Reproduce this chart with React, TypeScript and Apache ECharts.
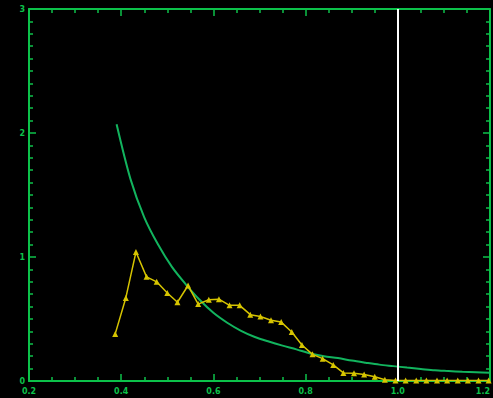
import React, { useEffect, useRef } from "react";
import * as echarts from "echarts";

const xTicks = [0.2, 0.4, 0.6, 0.8, 1.0, 1.2];
const yTicks = [0, 1, 2, 3];

const modelX = [0.39, 0.42, 0.45, 0.48, 0.51, 0.54, 0.57, 0.6, 0.63, 0.66, 0.69, 0.72, 0.75, 0.78, 0.81, 0.84, 0.87, 0.9, 0.93, 0.96, 0.99, 1.02, 1.05, 1.08, 1.11, 1.14, 1.17, 1.2];
const modelY = [2.07, 1.63, 1.32, 1.1, 0.92, 0.78, 0.655, 0.55, 0.47, 0.405, 0.355, 0.318, 0.285, 0.255, 0.222, 0.2, 0.185, 0.165, 0.148, 0.132, 0.12, 0.108, 0.097, 0.086, 0.08, 0.074, 0.07, 0.066];

const obsX = [0.387, 0.41, 0.432, 0.455, 0.477, 0.5, 0.522, 0.545, 0.567, 0.59, 0.612, 0.635, 0.657, 0.68, 0.702, 0.725, 0.747, 0.77, 0.792, 0.815, 0.837, 0.86, 0.882, 0.905, 0.927, 0.95, 0.972, 0.995, 1.017, 1.04, 1.062, 1.085, 1.107, 1.13, 1.152, 1.175, 1.197];
const obsY = [0.38, 0.67, 1.04, 0.84, 0.8, 0.71, 0.635, 0.77, 0.62, 0.655, 0.66, 0.61, 0.61, 0.535, 0.52, 0.49, 0.475, 0.395, 0.29, 0.215, 0.18, 0.13, 0.065, 0.062, 0.052, 0.035, 0.01, 0.005, 0.005, 0.004, 0.004, 0.004, 0.004, 0.004, 0.004, 0.004, 0.005];

const refLineX = 1.0;

const AXIS_GREEN = "#0cc24a";
const CURVE_GREEN = "#12b45e";
const YELLOW = "#d6c400";

export default function App() {
  const ref = useRef<HTMLDivElement>(null);
  useEffect(() => {
    document.body.style.margin = "0";
    document.body.style.background = "#000";
    const chart = echarts.init(ref.current!, null, { renderer: "svg" });
    const axisCommon = {
      type: "value" as const,
      axisLine: { show: true, onZero: false, lineStyle: { color: AXIS_GREEN, width: 2 } },
      axisTick: { show: true, inside: true, length: 7, lineStyle: { color: AXIS_GREEN, width: 1.5 } },
      minorTick: { show: true, length: 4, lineStyle: { color: AXIS_GREEN, width: 1.5 } },
      splitLine: { show: false },
      minorSplitLine: { show: false },
    };
    chart.setOption({
      animation: false,
      backgroundColor: "#000",
      grid: { left: 29, right: 3, top: 9, bottom: 17, containLabel: false, outerBoundsMode: "none" },
      xAxis: [
        {
          ...axisCommon,
          position: "bottom",
          min: xTicks[0],
          max: xTicks[xTicks.length - 1],
          interval: 0.2,
          minorTick: { ...axisCommon.minorTick, splitNumber: 4 },
          axisLabel: {
            color: AXIS_GREEN,
            fontSize: 8,
            fontWeight: "bold",
            fontFamily: "DejaVu Sans",
            margin: 6,
            hideOverlap: false,
            alignMaxLabel: "right",
            formatter: (v: number) => v.toFixed(1),
          },
        },
        {
          ...axisCommon,
          position: "top",
          min: xTicks[0],
          max: xTicks[xTicks.length - 1],
          interval: 0.2,
          minorTick: { ...axisCommon.minorTick, splitNumber: 4 },
          axisLabel: { show: false },
        },
      ],
      yAxis: [
        {
          ...axisCommon,
          position: "left",
          min: yTicks[0],
          max: yTicks[yTicks.length - 1],
          interval: 1,
          minorTick: { ...axisCommon.minorTick, splitNumber: 10 },
          axisLabel: {
            color: AXIS_GREEN,
            fontSize: 8,
            fontWeight: "bold",
            fontFamily: "DejaVu Sans",
            margin: 4,
          },
        },
        {
          ...axisCommon,
          position: "right",
          min: yTicks[0],
          max: yTicks[yTicks.length - 1],
          interval: 1,
          minorTick: { ...axisCommon.minorTick, splitNumber: 10 },
          axisLabel: { show: false },
        },
      ],
      series: [
        {
          type: "line",
          data: modelX.map((x, i) => [x, modelY[i]]),
          smooth: 0.3,
          showSymbol: false,
          lineStyle: { color: CURVE_GREEN, width: 2 },
          itemStyle: { color: CURVE_GREEN },
          z: 3,
          markLine: {
            silent: true,
            symbol: "none",
            label: { show: false },
            lineStyle: { color: "#ffffff", width: 2, type: "solid" },
            data: [{ xAxis: refLineX }],
          },
        },
        {
          type: "line",
          data: obsX.map((x, i) => [x, obsY[i]]),
          symbol: "triangle",
          symbolSize: 6,
          showSymbol: true,
          lineStyle: { color: YELLOW, width: 1.5 },
          itemStyle: { color: YELLOW },
          z: 4,
        },
      ],
    });
    return () => chart.dispose();
  }, []);
  return <div ref={ref} style={{ width: 493, height: 398 }} />;
}
